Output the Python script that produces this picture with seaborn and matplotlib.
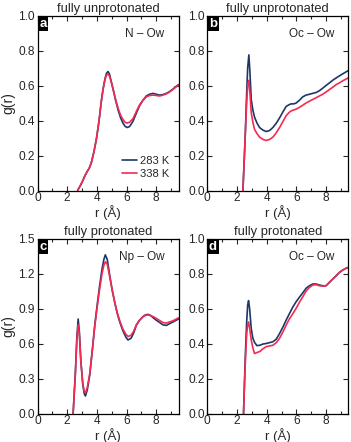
import numpy as np
import pandas as pd
import matplotlib
matplotlib.use("Agg")
import matplotlib.pyplot as plt
import seaborn as sns

# ---- data ----
temps = ["283 K", "338 K"]

r_a = [2.7, 2.9, 3.07, 3.2, 3.34, 3.5, 3.63, 3.8, 3.97, 4.1, 4.19, 4.3, 4.42, 4.55, 4.65, 4.75, 4.85, 4.95, 5.09, 5.25, 5.43, 5.6, 5.76, 5.9, 6.03, 6.2, 6.43, 6.65, 6.88, 7.1, 7.33, 7.55, 7.78, 8.0, 8.23, 8.45, 8.68, 8.9, 9.13, 9.35, 9.5]
g_a_283 = [0.0, 0.03, 0.06, 0.085, 0.107, 0.13, 0.16, 0.22, 0.295, 0.37, 0.43, 0.51, 0.58, 0.64, 0.67, 0.68, 0.665, 0.63, 0.58, 0.52, 0.46, 0.415, 0.385, 0.367, 0.36, 0.365, 0.395, 0.44, 0.485, 0.515, 0.54, 0.55, 0.555, 0.55, 0.545, 0.548, 0.555, 0.565, 0.58, 0.595, 0.605]
g_a_338 = [0.0, 0.03, 0.06, 0.085, 0.107, 0.13, 0.16, 0.22, 0.295, 0.37, 0.43, 0.51, 0.58, 0.635, 0.66, 0.665, 0.655, 0.625, 0.58, 0.525, 0.47, 0.43, 0.405, 0.39, 0.385, 0.39, 0.41, 0.45, 0.49, 0.515, 0.535, 0.543, 0.545, 0.543, 0.54, 0.545, 0.552, 0.563, 0.578, 0.593, 0.603]

r_b = [2.4, 2.55, 2.65, 2.72, 2.8, 2.87, 2.96, 3.07, 3.18, 3.35, 3.52, 3.75, 3.97, 4.2, 4.42, 4.65, 4.87, 5.1, 5.31, 5.5, 5.65, 5.82, 5.99, 6.2, 6.43, 6.65, 6.88, 7.1, 7.33, 7.55, 7.78, 8.0, 8.23, 8.45, 8.68, 8.9, 9.13, 9.35, 9.5]
g_b_283 = [0.0, 0.3, 0.55, 0.7, 0.775, 0.68, 0.52, 0.46, 0.42, 0.385, 0.36, 0.345, 0.337, 0.343, 0.36, 0.385, 0.415, 0.45, 0.48, 0.49, 0.495, 0.495, 0.50, 0.515, 0.535, 0.545, 0.55, 0.555, 0.56, 0.57, 0.585, 0.6, 0.615, 0.63, 0.643, 0.655, 0.667, 0.678, 0.685]
g_b_338 = [0.0, 0.3, 0.5, 0.6, 0.63, 0.56, 0.445, 0.39, 0.35, 0.325, 0.305, 0.292, 0.286, 0.292, 0.305, 0.33, 0.36, 0.395, 0.427, 0.445, 0.455, 0.46, 0.465, 0.475, 0.487, 0.5, 0.51, 0.52, 0.53, 0.54, 0.55, 0.563, 0.577, 0.59, 0.605, 0.615, 0.627, 0.637, 0.643]

r_c = [2.4, 2.55, 2.65, 2.74, 2.82, 2.92, 3.05, 3.15, 3.23, 3.35, 3.52, 3.7, 3.86, 4.03, 4.19, 4.35, 4.47, 4.57, 4.7, 4.87, 5.03, 5.2, 5.37, 5.54, 5.75, 5.95, 6.1, 6.3, 6.48, 6.66, 6.88, 7.1, 7.27, 7.44, 7.62, 7.8, 8.0, 8.23, 8.45, 8.68, 8.9, 9.13, 9.35, 9.5]
g_c_283 = [0.0, 0.35, 0.65, 0.81, 0.7, 0.45, 0.25, 0.17, 0.15, 0.2, 0.33, 0.55, 0.76, 0.94, 1.10, 1.24, 1.32, 1.36, 1.32, 1.18, 1.06, 0.955, 0.86, 0.785, 0.71, 0.655, 0.63, 0.645, 0.69, 0.757, 0.8, 0.83, 0.845, 0.85, 0.84, 0.82, 0.80, 0.78, 0.76, 0.755, 0.77, 0.785, 0.8, 0.81]
g_c_338 = [0.0, 0.33, 0.62, 0.76, 0.68, 0.45, 0.26, 0.19, 0.178, 0.22, 0.34, 0.55, 0.75, 0.92, 1.07, 1.2, 1.27, 1.30, 1.28, 1.17, 1.06, 0.955, 0.865, 0.795, 0.725, 0.68, 0.66, 0.67, 0.705, 0.76, 0.8, 0.828, 0.842, 0.845, 0.84, 0.83, 0.815, 0.797, 0.78, 0.775, 0.785, 0.795, 0.81, 0.82]

r_d = [2.44, 2.55, 2.65, 2.72, 2.78, 2.85, 2.96, 3.07, 3.18, 3.34, 3.55, 3.75, 3.97, 4.2, 4.42, 4.65, 4.87, 5.1, 5.31, 5.53, 5.76, 5.98, 6.21, 6.44, 6.66, 6.88, 7.1, 7.33, 7.56, 7.78, 8.0, 8.23, 8.45, 8.68, 8.9, 9.13, 9.35, 9.5]
g_d_283 = [0.0, 0.3, 0.52, 0.62, 0.645, 0.6, 0.486, 0.43, 0.407, 0.388, 0.39, 0.397, 0.40, 0.405, 0.41, 0.425, 0.457, 0.495, 0.533, 0.57, 0.608, 0.638, 0.665, 0.69, 0.716, 0.73, 0.74, 0.74, 0.734, 0.73, 0.73, 0.75, 0.768, 0.787, 0.806, 0.82, 0.83, 0.835]
g_d_338 = [0.0, 0.27, 0.45, 0.51, 0.523, 0.49, 0.42, 0.375, 0.343, 0.348, 0.355, 0.37, 0.382, 0.386, 0.39, 0.405, 0.43, 0.467, 0.505, 0.54, 0.57, 0.6, 0.636, 0.668, 0.70, 0.72, 0.734, 0.736, 0.73, 0.728, 0.73, 0.75, 0.768, 0.787, 0.806, 0.82, 0.83, 0.835]

titles = ["fully unprotonated", "fully unprotonated", "fully protonated", "fully protonated"]
pair_labels = ["N \u2013 Ow", "Oc \u2013 Ow", "Np \u2013 Ow", "Oc \u2013 Ow"]
panel_letters = ["a", "b", "c", "d"]
xlabel = "r (\u00c5)"
ylabel = "g(r)"
x_ticks = [0, 2, 4, 6, 8]
y_ticks_top = [0.0, 0.2, 0.4, 0.6, 0.8, 1.0]
y_ticks_c = [0.0, 0.3, 0.6, 0.9, 1.2, 1.5]

# ---- style ----
sns.set_style("ticks")
plt.rcParams["font.family"] = ["Liberation Sans", "DejaVu Sans"]
colors = {"283 K": "#1c3768", "338 K": "#f42a52"}

fig = plt.figure(figsize=(3.51, 4.42), dpi=100)
W, H = 351.0, 442.0
boxes = [
    (37.5, 15.5, 178.5, 190.5),
    (207.3, 15.5, 348.3, 190.5),
    (37.5, 238.5, 178.5, 413.5),
    (207.3, 238.5, 348.3, 413.5),
]
datasets = [
    (r_a, g_a_283, g_a_338),
    (r_b, g_b_283, g_b_338),
    (r_c, g_c_283, g_c_338),
    (r_d, g_d_283, g_d_338),
]

for i, (box, (r, g1, g2)) in enumerate(zip(boxes, datasets)):
    x0, y0, x1, y1 = box
    ax = fig.add_axes([x0 / W, 1 - y1 / H, (x1 - x0) / W, (y1 - y0) / H])
    df = pd.DataFrame({
        "r": list(r) + list(r),
        "g": list(g1) + list(g2),
        "T": [temps[0]] * len(r) + [temps[1]] * len(r),
    })
    sns.lineplot(data=df, x="r", y="g", hue="T", palette=colors, ax=ax,
                 linewidth=1.2, legend=(i == 0), sort=False)
    ax.set_xlim(0, 9.5)
    yt = y_ticks_c if i == 2 else y_ticks_top
    ax.set_ylim(yt[0], yt[-1])
    ax.set_xticks(x_ticks)
    ax.set_xticks([1, 3, 5, 7, 9], minor=True)
    ax.set_yticks(yt)
    ax.set_yticklabels([f"{v:.1f}" for v in yt])
    ax.tick_params(which="both", direction="in", top=True, right=True,
                   labelsize=8.6, width=0.8)
    ax.tick_params(axis="x", which="both", pad=1)
    ax.tick_params(axis="y", which="both", pad=2)
    ax.tick_params(which="major", length=3.5)
    ax.tick_params(which="minor", length=2)
    for s in ax.spines.values():
        s.set_linewidth(0.9)
        s.set_color("black")
    ax.set_xlabel(xlabel, fontsize=9.5, labelpad=0.5)
    if i in (0, 2):
        ax.set_ylabel(ylabel, fontsize=10, labelpad=2)
    else:
        ax.set_ylabel("")
    ax.set_title(titles[i], fontsize=9.3, pad=2.5)
    ax.text(0.9, 0.895, pair_labels[i], transform=ax.transAxes,
            ha="right", va="center", fontsize=8.5)
    ax.text(0.012, 0.988, panel_letters[i], transform=ax.transAxes,
            ha="left", va="top", fontsize=9.5, fontweight="bold", color="white",
            bbox=dict(boxstyle="square,pad=0.12", fc="black", ec="none"))
    if i == 0:
        ax.legend(loc="lower right", frameon=False, fontsize=8,
                  handlelength=1.4, handletextpad=0.25, labelspacing=0.3,
                  borderaxespad=0.3, bbox_to_anchor=(0.99, 0.02), title=None)

fig.savefig("out.png", dpi=100)
